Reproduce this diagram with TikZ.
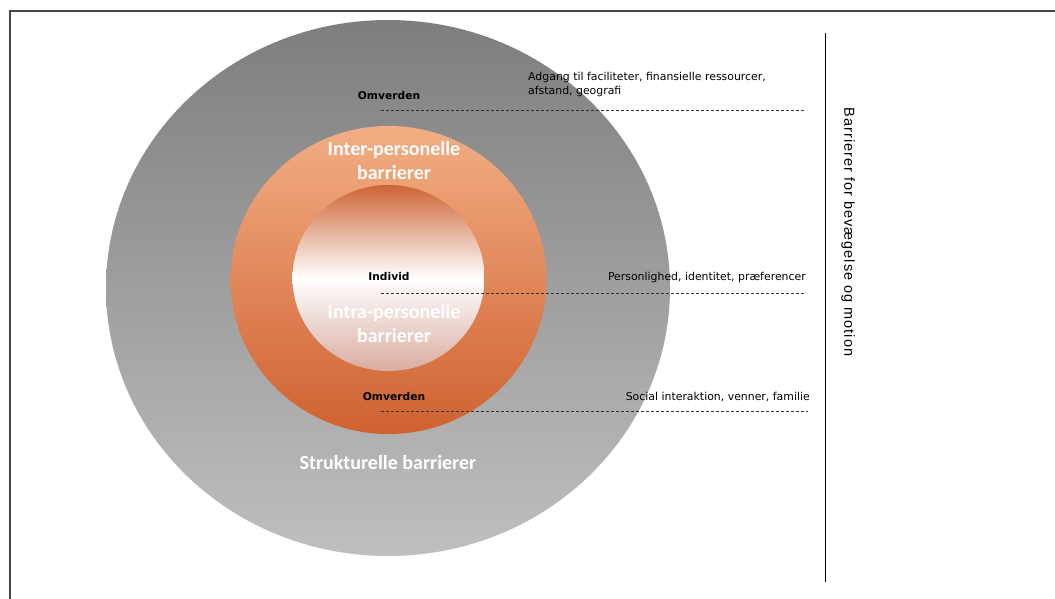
\documentclass[tikz,border=0pt]{standalone}
\usepackage{fontspec}
\setmainfont{DejaVu Sans}
\newfontfamily\calib{Carlito}
\newfontfamily\arialf[LetterSpace=7]{Liberation Sans}
\definecolor{greytop}{HTML}{7E7E7E}
\definecolor{greybot}{HTML}{BFBFBF}
\definecolor{orlight}{HTML}{F2AE84}
\definecolor{ordark}{HTML}{CF6130}
\definecolor{inntop}{HTML}{CC6535}
\definecolor{innbot}{HTML}{D9ACA0}
\definecolor{framec}{HTML}{444444}
\definecolor{dashc}{HTML}{333333}
\tikzset{
  small/.style={font=\fontsize{10.9}{14}\selectfont, text=black, inner sep=0pt},
  smallbold/.style={font=\fontsize{10.7}{14}\selectfont\bfseries, text=black, inner sep=0pt},
  bigwhite/.style={font=\calib\fontsize{20}{24}\selectfont\bfseries, text=white, inner sep=0pt, align=center},
  dashline/.style={draw=dashc, dash pattern=on 3pt off 2pt, line width=0.7pt},
}
\begin{document}
\begin{tikzpicture}[x=1pt,y=-1pt]
\useasboundingbox (0,0) rectangle (1055,599);
\fill[white] (0,0) rectangle (1055,599);
% frame
\draw[framec, line width=2pt] (10,600) -- (10,11) -- (1056,11);
% vertical rule
\draw[black, line width=1pt] (825,33) -- (825,582);
% outer ellipse
\shade[top color=greytop, bottom color=greybot] (388,288) ellipse [x radius=282, y radius=268];
% middle
\shade[top color=orlight, bottom color=ordark] (388.5,280) ellipse [x radius=158, y radius=154];
% inner
\shade[top color=inntop, bottom color=innbot, middle color=white] (388.5,278) ellipse [x radius=96, y radius=93];
% texts
\node[smallbold] (om1) at (389,96) {Omverden};
\node[small, anchor=west, align=left] (t1) at (528,84) {Adgang til faciliteter, finansielle ressourcer,\\afstand, geografi};
\node[bigwhite] (inter) at (394,161) {Inter-personelle\\barrierer};
\node[smallbold] (ind) at (389,277) {Individ};
\node[small, anchor=east] (t2) at (806,277) {Personlighed, identitet, præferencer};
\node[bigwhite] (intra) at (394,324) {Intra-personelle\\barrierer};
\node[smallbold] (om2) at (394,397) {Omverden};
\node[small, anchor=east] (t3) at (810,397) {Social interaktion, venner, familie};
\node[bigwhite] (strukt) at (388,463) {Strukturelle barrierer};
\node[font=\arialf\fontsize{14.5}{16}\selectfont, rotate=-90, inner sep=0pt] (side) at (848,232) {Barrierer for bevægelse og motion};
% dashed lines
\coordinate (d1a) at (381,110); \coordinate (d1b) at (806,110);
\coordinate (d2a) at (381,293); \coordinate (d2b) at (806,293);
\coordinate (d3a) at (381,411); \coordinate (d3b) at (808,411);
\draw[dashline] (d1a) -- (d1b);
\draw[dashline] (d2a) -- (d2b);
\draw[dashline] (d3a) -- (d3b);
\end{tikzpicture}
\end{document}
